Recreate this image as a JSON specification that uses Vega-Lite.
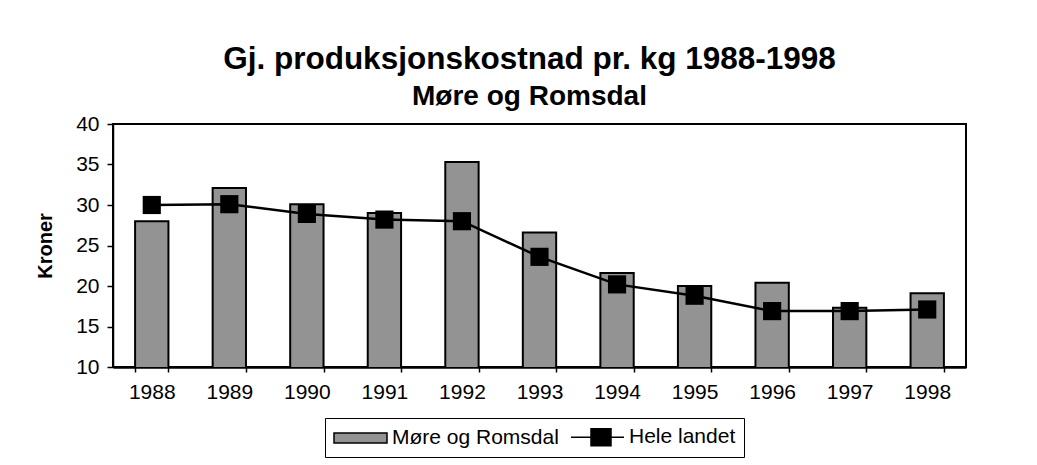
{
  "$schema": "https://vega.github.io/schema/vega-lite/v6.json",
  "autosize": {"type": "none"},
  "width": 853,
  "height": 243,
  "padding": {"left": 113, "top": 124, "right": 71, "bottom": 98},
  "background": "white",
  "title": {
    "text": "Gj. produksjonskostnad pr. kg 1988-1998",
    "subtitle": "Møre og Romsdal",
    "anchor": "middle",
    "frame": "group",
    "dx": -10,
    "font": "Liberation Sans",
    "fontSize": 31.5,
    "fontWeight": "bold",
    "color": "black",
    "subtitleFont": "Liberation Sans",
    "subtitleFontSize": 28,
    "subtitleFontWeight": "bold",
    "subtitleColor": "black",
    "subtitlePadding": 8,
    "offset": 2
  },
  "data": {
    "values": [
      {"year": "1988", "series": "Møre og Romsdal", "value": 28.0},
      {"year": "1989", "series": "Møre og Romsdal", "value": 32.1},
      {"year": "1990", "series": "Møre og Romsdal", "value": 30.1},
      {"year": "1991", "series": "Møre og Romsdal", "value": 29.0},
      {"year": "1992", "series": "Møre og Romsdal", "value": 35.3},
      {"year": "1993", "series": "Møre og Romsdal", "value": 26.6},
      {"year": "1994", "series": "Møre og Romsdal", "value": 21.6},
      {"year": "1995", "series": "Møre og Romsdal", "value": 20.0},
      {"year": "1996", "series": "Møre og Romsdal", "value": 20.4},
      {"year": "1997", "series": "Møre og Romsdal", "value": 17.3},
      {"year": "1998", "series": "Møre og Romsdal", "value": 19.1},
      {"year": "1988", "series": "Hele landet", "value": 30.0},
      {"year": "1989", "series": "Hele landet", "value": 30.1},
      {"year": "1990", "series": "Hele landet", "value": 28.9},
      {"year": "1991", "series": "Hele landet", "value": 28.2},
      {"year": "1992", "series": "Hele landet", "value": 28.0},
      {"year": "1993", "series": "Hele landet", "value": 23.6},
      {"year": "1994", "series": "Hele landet", "value": 20.2},
      {"year": "1995", "series": "Hele landet", "value": 18.8},
      {"year": "1996", "series": "Hele landet", "value": 16.9},
      {"year": "1997", "series": "Hele landet", "value": 16.9},
      {"year": "1998", "series": "Hele landet", "value": 17.1}
    ]
  },
  "encoding": {
    "x": {
      "field": "year",
      "type": "ordinal",
      "title": null,
      "scale": {"paddingInner": 0.57, "paddingOuter": 0.285},
      "axis": {
        "labelAngle": 0,
        "labelFont": "Liberation Sans",
        "labelFontSize": 21,
        "labelColor": "black",
        "labelPadding": 9,
        "tickBand": "extent",
        "tickSize": 5,
        "tickColor": "black",
        "tickWidth": 1.5,
        "domainColor": "black",
        "domainWidth": 2.5
      }
    },
    "y": {
      "field": "value",
      "type": "quantitative",
      "title": "Kroner",
      "scale": {"domain": [10, 40], "nice": false, "zero": false},
      "axis": {
        "values": [10, 15, 20, 25, 30, 35, 40],
        "grid": false,
        "labelFont": "Liberation Sans",
        "labelFontSize": 21,
        "labelColor": "black",
        "labelPadding": 8,
        "tickSize": 6,
        "tickColor": "black",
        "tickWidth": 1.5,
        "domainColor": "black",
        "domainWidth": 1.5,
        "titleFont": "Liberation Sans",
        "titleFontSize": 20,
        "titleFontWeight": "bold",
        "titleColor": "black",
        "titlePadding": 20
      }
    }
  },
  "layer": [
    {
      "transform": [{"filter": "datum.series === 'Møre og Romsdal'"}],
      "mark": {"type": "bar", "stroke": "black", "strokeWidth": 2, "clip": true},
      "encoding": {
        "color": {
          "field": "series",
          "type": "nominal",
          "title": null,
          "scale": {"domain": ["Møre og Romsdal", "Hele landet"], "range": ["#939393", "black"]},
          "legend": {
            "encode": {"symbols": {"update": {"stroke": {"value": "black"}, "strokeWidth": {"value": 1.5}, "opacity": {"value": 1}}}}
          }
        }
      }
    },
    {
      "transform": [{"filter": "datum.series === 'Hele landet'"}],
      "mark": {"type": "line", "color": "black", "strokeWidth": 2.5},
      "encoding": {}
    },
    {
      "transform": [{"filter": "datum.series === 'Hele landet'"}],
      "mark": {"type": "point", "shape": "square", "filled": true, "opacity": 1, "size": 330, "color": "black"},
      "encoding": {}
    },
    {
      "transform": [{"filter": "false"}],
      "mark": {"type": "point", "filled": true, "opacity": 1},
      "encoding": {
        "color": {
          "field": "series",
          "type": "nominal",
          "title": null,
          "scale": {"domain": ["Møre og Romsdal", "Hele landet"], "range": ["#939393", "black"]},
          "legend": {
            "encode": {"symbols": {"update": {"stroke": {"value": "black"}, "strokeWidth": {"value": 1.5}, "opacity": {"value": 1}}}}
          }
        },
        "shape": {
          "field": "series",
          "type": "nominal",
          "title": null,
          "scale": {
            "domain": ["Møre og Romsdal", "Hele landet"],
            "range": ["M-1,-0.5H4.3V0.5H-1Z", "M-1,0H1M3,0H4.3M1,-0.85H3V0.85H1Z"]
          },
          "legend": {
            "encode": {"symbols": {"update": {"stroke": {"value": "black"}, "strokeWidth": {"value": 1.5}, "opacity": {"value": 1}}}}
          }
        }
      }
    }
  ],
  "config": {
    "view": {"stroke": "black", "strokeWidth": 2},
    "legend": {
      "orient": "none",
      "legendX": 212,
      "legendY": 294,
      "direction": "horizontal",
      "padding": 8,
      "strokeColor": "black",
      "strokeWidth": 1,
      "symbolSize": 400,
      "symbolOpacity": 1,
      "labelFont": "Liberation Sans",
      "labelFontSize": 21,
      "labelColor": "black",
      "labelOffset": 37,
      "labelLimit": 400,
      "columnPadding": 9
    }
  }
}
